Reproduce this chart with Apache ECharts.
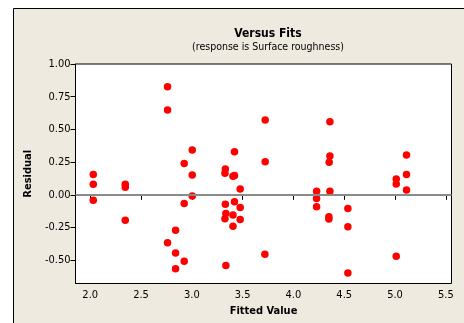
<!DOCTYPE html>
<html>
<head>
<meta charset="utf-8">
<script src="https://cdn.jsdelivr.net/npm/echarts@6/dist/echarts.min.js"></script>
<style>
html,body{margin:0;padding:0;background:#fff;}
#chart{width:464px;height:323px;}
</style>
</head>
<body>
<div id="chart"></div>
<script>
const fits = [2.03,2.03,2.03,2.345,2.345,2.345,2.761,2.761,2.761,2.84,2.84,2.84,2.925,2.925,2.925,3.004,3.004,3.004,3.33,3.326,3.33,3.335,3.326,3.335,3.42,3.405,3.42,3.42,3.405,3.405,3.476,3.476,3.476,3.722,3.722,3.719,4.228,4.228,4.228,4.359,4.359,4.352,4.359,4.349,4.349,4.536,4.536,4.536,5.012,5.012,5.012,5.113,5.113,5.113];
const residuals = [0.156,0.080,-0.041,0.080,0.057,-0.194,0.826,0.648,-0.367,-0.27,-0.444,-0.566,0.240,-0.066,-0.507,0.342,0.151,-0.010,0.198,0.164,-0.073,-0.143,-0.183,-0.540,0.329,0.141,0.148,-0.053,-0.155,-0.240,0.044,-0.097,-0.188,0.572,0.253,-0.454,0.028,-0.028,-0.092,0.559,0.296,0.248,0.028,-0.168,-0.184,-0.104,-0.245,-0.597,0.120,0.082,-0.469,0.304,0.156,0.036];
const xTicks = [2.0,2.5,3.0,3.5,4.0,4.5,5.0,5.5];
const yTicks = [-0.5,-0.25,0,0.25,0.5,0.75,1.0];
const titleText = 'Versus Fits';
const subtitleText = '(response is Surface roughness)';
const xName = 'Fitted Value';
const yName = 'Residual';

const FONT = '"DejaVu Sans Condensed","DejaVu Sans",sans-serif';
const points = fits.map((f, i) => [f, residuals[i]]);

const chart = echarts.init(document.getElementById('chart'), null, {renderer: 'canvas'});
chart.setOption({
  backgroundColor: '#ffffff',
  animation: false,
  graphic: [{
    type: 'rect', z: -10, silent: true,
    shape: {x: 13.5, y: 8.5, width: 460, height: 330},
    style: {fill: '#EEEAE0', stroke: '#000', lineWidth: 1}
  }],
  title: {
    text: titleText,
    subtext: subtitleText,
    left: 263, top: 23, textAlign: 'center', itemGap: 2,
    textStyle: {fontFamily: FONT, fontSize: 12, fontWeight: 'bold', color: '#000'},
    subtextStyle: {fontFamily: FONT, fontSize: 10.5, color: '#000'}
  },
  grid: {
    left: 75.5, right: 12.5, top: 64, bottom: 39.5,
    show: true, backgroundColor: '#fff', borderColor: '#000', borderWidth: 1,
    containLabel: false
  },
  xAxis: {
    type: 'value', min: 1.855, max: 5.556,
    name: xName, nameLocation: 'middle', nameGap: 20,
    nameTextStyle: {fontFamily: FONT, fontSize: 11, fontWeight: 'bold', color: '#000'},
    axisLine: {show: true, lineStyle: {color: '#000', width: 1}},
    axisTick: {show: true, length: 5, customValues: xTicks, lineStyle: {color: '#000'}},
    axisLabel: {customValues: xTicks, fontFamily: FONT, fontSize: 11, color: '#000', margin: 6,
      formatter: v => Number(v).toFixed(1)},
    splitLine: {show: false}
  },
  yAxis: {
    type: 'value', min: -0.678, max: 1.0,
    name: yName, nameLocation: 'middle', nameGap: 34, nameRotate: 90,
    nameTextStyle: {fontFamily: FONT, fontSize: 11, fontWeight: 'bold', color: '#000'},
    axisLine: {show: true, lineStyle: {color: '#000', width: 1}},
    axisTick: {show: true, length: 5, customValues: yTicks, lineStyle: {color: '#000'}},
    axisLabel: {customValues: yTicks, fontFamily: FONT, fontSize: 11, color: '#000', margin: 5,
      formatter: v => Number(v).toFixed(2)},
    splitLine: {show: false}
  },
  series: [{
    type: 'scatter',
    data: points,
    symbol: 'circle', symbolSize: 7.5,
    itemStyle: {color: '#ff0000', opacity: 1},
    markLine: {
      silent: true, symbol: 'none', label: {show: false},
      lineStyle: {color: '#8a8a8a', width: 2, type: 'solid'},
      data: [{yAxis: 0}]
    },
    z: 3
  }]
});
</script>
</body>
</html>
